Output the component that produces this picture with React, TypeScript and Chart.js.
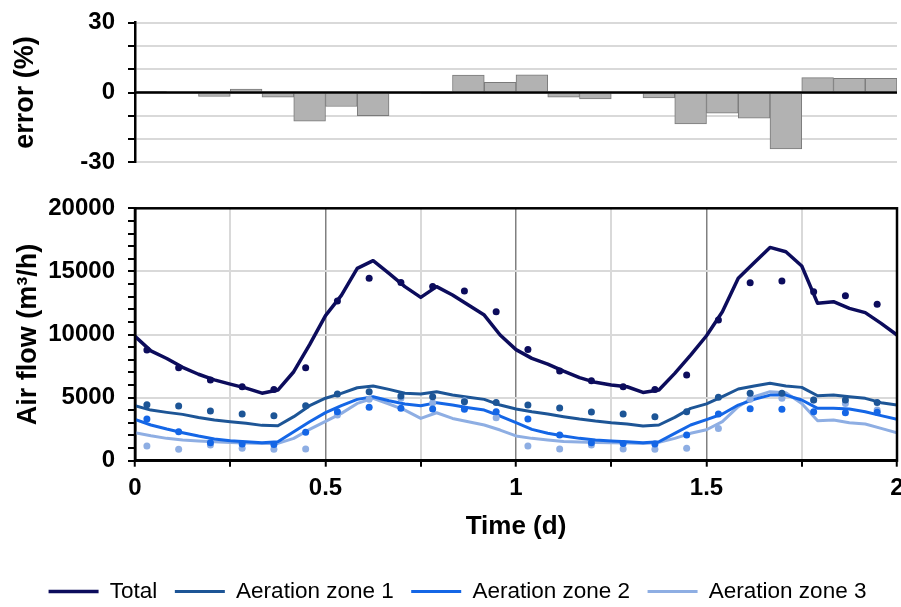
import React, { useEffect, useRef } from 'react';
import { Chart, registerables } from 'chart.js';

Chart.register(...registerables);

// ---------- data ----------
// error bars: 2-hour intervals over two days
const ERROR_INTERVALS = [
  '0-2 h', '2-4 h', '4-6 h', '6-8 h', '8-10 h', '10-12 h', '12-14 h', '14-16 h',
  '16-18 h', '18-20 h', '20-22 h', '22-24 h', '24-26 h', '26-28 h', '28-30 h', '30-32 h',
  '32-34 h', '34-36 h', '36-38 h', '38-40 h', '40-42 h', '42-44 h', '44-46 h', '46-48 h',
];
const ERROR_PCT = [
  0.3, 0, -1.7, 1.5, -2, -12.3, -6, -10, 0, -0.5, 7.5, 4.4,
  7.6, -2, -2.8, 0, -2.3, -13.5, -8.9, -11, -24.3, 6.4, 6.1, 6.1,
];

// model (lines), hourly, hours 0..48
const MODEL_HOURS = [
  0, 1, 2, 3, 4, 5, 6, 7, 8, 9, 10, 11, 12, 13, 14, 15, 16, 17, 18, 19, 20, 21, 22, 23, 24,
  25, 26, 27, 28, 29, 30, 31, 32, 33, 34, 35, 36, 37, 38, 39, 40, 41, 42, 43, 44, 45, 46, 47, 48,
];
const TOTAL_MODEL = [
  9850, 8700, 8100, 7400, 6850, 6400, 6070, 5750, 5350, 5600, 7050, 9200, 11500,
  13100, 15240, 15850, 14840, 13790, 12940, 13790, 13130, 12330, 11540, 9960, 8800,
  8110, 7660, 7100, 6580, 6210, 6000, 5860, 5410, 5600, 6920, 8370, 9900,
  11800, 14450, 15690, 16900, 16560, 15430, 12470, 12600, 12070, 11730, 10880, 9960,
];
const ZONE1_MODEL = [
  4360, 4010, 3830, 3670, 3430, 3220, 3090, 2960, 2800, 2770, 3490, 4360, 4950,
  5340, 5780, 5920, 5650, 5340, 5280, 5470, 5200, 5020, 4860, 4410, 4100,
  3880, 3700, 3490, 3300, 3140, 3010, 2910, 2750, 2830, 3430, 4150, 4500,
  5070, 5680, 5920, 6130, 5920, 5810, 5150, 5200, 5070, 4940, 4600, 4410,
];
const ZONE2_MODEL = [
  3280, 2830, 2510, 2220, 1950, 1720, 1580, 1500, 1430, 1500, 2300, 3090, 3810,
  4360, 4860, 5070, 4750, 4490, 4360, 4600, 4410, 4200, 4010, 3540, 3020,
  2480, 2170, 1950, 1770, 1640, 1560, 1500, 1430, 1500, 2170, 2830, 3250,
  3700, 4410, 4860, 5200, 5200, 4810, 4150, 4150, 4090, 3880, 3570, 3280,
];
const ZONE3_MODEL = [
  2220, 1980, 1770, 1640, 1560, 1500, 1450, 1400, 1370, 1370, 1770, 2480, 3110,
  3750, 4540, 4940, 4490, 4010, 3350, 3800, 3350, 3090, 2830, 2430, 1960,
  1770, 1640, 1530, 1480, 1450, 1430, 1400, 1370, 1450, 1770, 2170, 2450,
  3090, 4280, 5070, 5470, 5390, 4540, 3170, 3220, 3010, 2910, 2560, 2220,
];

// measurements (dots), every 2 hours
const MEAS_HOURS = [
  0.75, 2.75, 4.75, 6.75, 8.75, 10.75, 12.75, 14.75, 16.75, 18.75, 20.75, 22.75,
  24.75, 26.75, 28.75, 30.75, 32.75, 34.75, 36.75, 38.75, 40.75, 42.75, 44.75, 46.75,
];
const TOTAL_MEAS = [
  8770, 7370, 6390, 5860, 5650, 7370, 12650, 14450, 14130, 13800, 13440, 11800,
  8820, 7100, 6340, 5860, 5650, 6790, 11150, 14100, 14240, 13390, 13070, 12390,
];
const ZONE1_MEAS = [
  4440, 4330, 3940, 3700, 3570, 4360, 5280, 5470, 5120, 5070, 4680, 4620,
  4410, 4170, 3860, 3700, 3490, 3880, 5020, 5340, 5340, 4810, 4810, 4620,
];
const ZONE2_MEAS = [
  3300, 2300, 1430, 1320, 1290, 2250, 3880, 4230, 4150, 4090, 4070, 3880,
  3300, 2030, 1430, 1370, 1320, 2030, 3700, 4120, 4070, 3880, 3800, 3830,
];
const ZONE3_MEAS = [
  1160, 900, 1240, 980, 900, 920, 3620, 4860, 4940, 4600, 4750, 3410,
  1160, 920, 1240, 920, 900, 980, 2560, 4860, 4940, 4810, 4540, 4010,
];

const SERIES_NAMES = ['Total', 'Aeration zone 1', 'Aeration zone 2', 'Aeration zone 3'];
const X_TICK_LABELS = [0, 0.5, 1, 1.5, 2];
const Y_TICK_LABELS = [0, 5000, 10000, 15000, 20000];
const ERR_TICK_LABELS = [-30, 0, 30];

// ---------- styles ----------
const FONT = '"Liberation Sans", Arial, Helvetica, sans-serif';
const COLORS = ['#0c0c5c', '#1d5596', '#1466e6', '#8eaee3'];
const LINE_WIDTHS = [3.5, 3, 3, 3];
const GRID_LIGHT = '#d9d9d9';
const GRID_DARK = '#808080';

const toDays = (h: number) => h / 24;
const pairs = (hours: number[], vals: number[]) => hours.map((h, i) => ({ x: toDays(h), y: vals[i] }));
const near = (list: number[], v: number) => list.some((l) => Math.abs(l - v) < 1e-9);

const framePlugin = {
  id: 'frame',
  afterDatasetsDraw(chart: any) {
    const { ctx, chartArea: a } = chart;
    ctx.save();
    ctx.strokeStyle = '#000';
    ctx.lineWidth = 2.5;
    ctx.strokeRect(a.left, a.top, a.right - a.left, a.bottom - a.top);
    ctx.restore();
  },
};

const zeroLinePlugin = {
  id: 'zeroLine',
  afterDatasetsDraw(chart: any) {
    const { ctx, chartArea: a, scales } = chart;
    const y = scales.y.getPixelForValue(0);
    ctx.save();
    ctx.strokeStyle = '#000';
    ctx.lineWidth = 2.5;
    ctx.beginPath();
    ctx.moveTo(a.left, y);
    ctx.lineTo(a.right, y);
    ctx.stroke();
    ctx.restore();
  },
};

export default function App() {
  const topRef = useRef<HTMLCanvasElement>(null);
  const botRef = useRef<HTMLCanvasElement>(null);

  useEffect(() => {
    Chart.defaults.font.family = FONT;
    Chart.defaults.color = '#000';

    const top = new Chart(topRef.current as HTMLCanvasElement, {
      type: 'bar',
      data: {
        labels: ERROR_INTERVALS,
        datasets: [
          {
            label: 'error (%)',
            data: ERROR_PCT,
            backgroundColor: '#b2b2b2',
            borderColor: '#7a7a7a',
            borderWidth: 1,
            barPercentage: 1,
            categoryPercentage: 1,
          },
        ],
      },
      options: {
        responsive: false,
        animation: false,
        devicePixelRatio: 1,
        layout: { padding: { top: 22.7, bottom: 17.7, left: 0, right: 23 } },
        plugins: { legend: { display: false }, tooltip: { enabled: false } },
        scales: {
          x: { type: 'category', display: false, offset: true },
          y: {
            min: -30,
            max: 30,
            afterFit: (s: any) => { s.width = 135; },
            border: { display: true, color: '#000', width: 2.5 },
            grid: {
              color: GRID_LIGHT,
              lineWidth: 2,
              tickColor: '#000',
              tickLength: 7,
              tickWidth: 2,
            },
            ticks: {
              stepSize: 10,
              autoSkip: false,
              padding: 13,
              font: { size: 24, weight: 'bold', lineHeight: 0.3 },
              callback: (v: any) => (near(ERR_TICK_LABELS, Number(v)) ? String(v) : ''),
            },
            title: {
              display: true,
              text: 'error (%)',
              font: { size: 27, weight: 'bold', lineHeight: 1 },
              padding: { top: 12.5, bottom: 0 },
            },
          },
        },
      },
      plugins: [zeroLinePlugin],
    } as any);

    const dotSets = [TOTAL_MEAS, ZONE1_MEAS, ZONE2_MEAS, ZONE3_MEAS].map((vals, i) => ({
      type: 'line',
      label: SERIES_NAMES[i] + ' (measured)',
      data: pairs(MEAS_HOURS, vals),
      showLine: false,
      pointRadius: 3.5,
      pointBorderWidth: 0,
      pointBackgroundColor: COLORS[i],
      backgroundColor: COLORS[i],
      borderColor: COLORS[i],
    }));
    const lineSets = [TOTAL_MODEL, ZONE1_MODEL, ZONE2_MODEL, ZONE3_MODEL].map((vals, i) => ({
      type: 'line',
      label: SERIES_NAMES[i],
      data: pairs(MODEL_HOURS, vals),
      borderColor: COLORS[i],
      backgroundColor: COLORS[i],
      borderWidth: LINE_WIDTHS[i],
      pointRadius: 0,
      tension: 0,
      borderJoinStyle: 'round',
      borderCapStyle: 'round',
    }));

    const bot = new Chart(botRef.current as HTMLCanvasElement, {
      type: 'line',
      data: { datasets: [...dotSets, ...lineSets] },
      options: {
        responsive: false,
        animation: false,
        devicePixelRatio: 1,
        layout: { padding: { top: 28.3, bottom: 10.3, left: 18, right: 23 } },
        plugins: {
          tooltip: { enabled: false },
          legend: {
            display: true,
            position: 'bottom',
            labels: {
              filter: (item: any) => item.datasetIndex >= 4,
              usePointStyle: true,
              pointStyle: 'line',
              pointStyleWidth: 50,
              padding: 17.5,
              color: '#000',
              font: { size: 22.5, weight: 'normal' },
            },
          },
        },
        scales: {
          x: {
            type: 'linear',
            min: 0,
            max: 2,
            afterFit: (s: any) => { s.height = 102; },
            border: { display: true, color: '#000', width: 2.5 },
            grid: {
              color: (c: any) => (near(X_TICK_LABELS, c.tick.value) ? GRID_DARK : GRID_LIGHT),
              lineWidth: (c: any) => (near(X_TICK_LABELS, c.tick.value) ? 1.5 : 2),
              tickColor: '#000',
              tickLength: 6,
              tickWidth: 2,
            },
            ticks: {
              stepSize: 0.25,
              autoSkip: false,
              maxRotation: 0,
              padding: 7,
              font: { size: 24, weight: 'bold' },
              callback: (v: any) => (near(X_TICK_LABELS, Number(v)) ? String(v) : ''),
            },
            title: {
              display: true,
              text: 'Time (d)',
              font: { size: 26, weight: 'bold' },
              padding: { top: 0, bottom: 20.3 },
            },
          },
          y: {
            min: 0,
            max: 20000,
            afterFit: (s: any) => { s.width = 117; },
            border: { display: true, color: '#000', width: 2.5 },
            grid: {
              color: (c: any) => (near(Y_TICK_LABELS, c.tick.value) ? GRID_LIGHT : 'rgba(0,0,0,0)'),
              lineWidth: 2,
              tickColor: '#000',
              tickLength: 7,
              tickWidth: 2,
            },
            ticks: {
              stepSize: 1000,
              autoSkip: false,
              padding: 13,
              font: { size: 24, weight: 'bold' },
              callback: (v: any) => (near(Y_TICK_LABELS, Number(v)) ? String(v) : ''),
            },
            title: {
              display: true,
              text: 'Air flow (m³/h)',
              font: { size: 27, weight: 'bold', lineHeight: 1 },
              padding: { top: -2.5, bottom: 0 },
            },
          },
        },
      },
      plugins: [framePlugin],
    } as any);

    return () => {
      top.destroy();
      bot.destroy();
    };
  }, []);

  return (
    <div
      style={{
        position: 'fixed',
        left: 0,
        top: 0,
        width: 901,
        height: 607,
        overflow: 'hidden',
        background: '#fff',
      }}
    >
      <canvas
        ref={topRef}
        width={920}
        height={180}
        style={{ position: 'absolute', left: 0, top: 0, width: 920, height: 180 }}
      />
      <canvas
        ref={botRef}
        width={920}
        height={443}
        style={{ position: 'absolute', left: 0, top: 180, width: 920, height: 443 }}
      />
    </div>
  );
}
